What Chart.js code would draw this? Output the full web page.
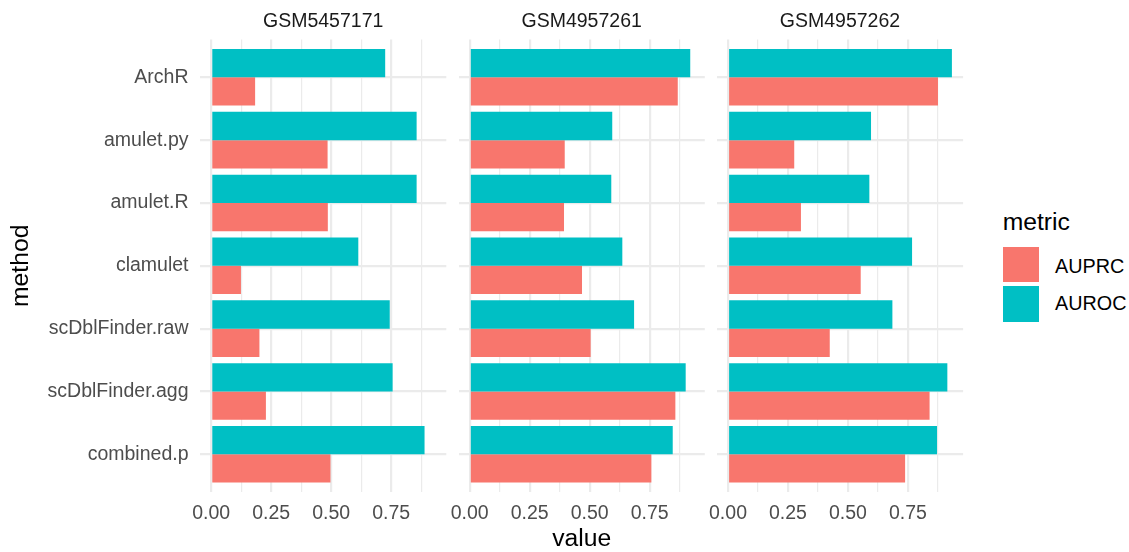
<!DOCTYPE html>
<html>
<head>
<meta charset="utf-8">
<title>AUPRC / AUROC per method</title>
<script src="https://cdn.jsdelivr.net/npm/chart.js@4.4.1/dist/chart.umd.min.js"></script>
<style>
  body { margin: 0; background: #fff; }
  #wrap { position: relative; width: 1129px; height: 552px; overflow: hidden;
          font-family: "Liberation Sans", Arial, Helvetica, sans-serif; }
  #wrap canvas { position: absolute; top: 0; }
  .lg { position: absolute; white-space: nowrap; line-height: 1; color: #000; }
  .key { position: absolute; width: 36px; height: 35.5px; }
</style>
</head>
<body>
<div id="wrap">
  <canvas id="c0" width="477" height="552" style="left:0px"></canvas>
  <canvas id="c1" width="307" height="552" style="left:428px"></canvas>
  <canvas id="c2" width="307" height="552" style="left:687px"></canvas>

  <div class="lg" style="left:1002.7px; top:209.8px; font-size:24.7px">metric</div>
  <div class="key" style="left:1002.7px; top:246.5px; background:#F8766D"></div>
  <div class="key" style="left:1002.7px; top:286.2px; background:#00BFC4"></div>
  <div class="lg" style="left:1055px; top:256.5px; font-size:19.8px">AUPRC</div>
  <div class="lg" style="left:1055px; top:294.2px; font-size:19.8px">AUROC</div>
</div>

<script>
const methods = ['ArchR', 'amulet.py', 'amulet.R', 'clamulet',
                 'scDblFinder.raw', 'scDblFinder.agg', 'combined.p'];
const samples = ['GSM5457171', 'GSM4957261', 'GSM4957262'];

const auprcA = [0.183, 0.485, 0.486, 0.124, 0.201, 0.228, 0.497];
const aurocA = [0.725, 0.856, 0.856, 0.613, 0.744, 0.756, 0.889];
const auprcB = [0.867, 0.396, 0.393, 0.468, 0.504, 0.857, 0.757];
const aurocB = [0.919, 0.594, 0.590, 0.636, 0.685, 0.900, 0.846];
const auprcC = [0.875, 0.276, 0.304, 0.553, 0.424, 0.840, 0.738];
const aurocC = [0.933, 0.596, 0.589, 0.767, 0.685, 0.914, 0.871];

const xTickValues = [0, 0.25, 0.5, 0.75];
const xTickLabels = ['0.00', '0.25', '0.50', '0.75'];
const xMinorValues = [0.125, 0.375, 0.625, 0.875];

const auprc = [auprcA, auprcB, auprcC];
const auroc = [aurocA, aurocB, aurocC];

const FONT = '"Liberation Sans", Arial, Helvetica, sans-serif';
const GRID = '#EBEBEB';

// shared x range: data max plus 5% on both sides, like ggplot's default expansion
const allVals = auprc.flat().concat(auroc.flat());
const vMax = Math.max(...allVals);
const xMin = -0.05 * vMax;
const xMax = vMax * 1.05;

// left/right padding of each canvas so the three panels line up
const pads = [
  { left: 0,    right: 30.7 },
  { left: 30.5, right: 30.2 },
  { left: 29.8, right: 30.9 }
];

function makePanel(i) {
  const first = i === 0;
  const toPts = arr => arr.map((v, k) => ({ x: v, y: k }));

  return new Chart(document.getElementById('c' + i), {
    type: 'bar',
    data: {
      datasets: [
        { label: 'AUROC', data: toPts(auroc[i]), backgroundColor: '#00BFC4' },
        { label: 'AUPRC', data: toPts(auprc[i]), backgroundColor: '#F8766D' }
      ]
    },
    options: {
      indexAxis: 'y',
      responsive: false,
      animation: false,
      events: [],
      layout: { padding: { left: pads[i].left, right: pads[i].right, top: 0, bottom: 0 } },
      datasets: { bar: { barPercentage: 1, categoryPercentage: 0.9, borderWidth: 0 } },
      plugins: {
        legend: { display: false },
        tooltip: { enabled: false },
        title: {
          display: true,
          text: samples[i],
          fullSize: false,
          color: '#1A1A1A',
          font: { family: FONT, size: 19.5, weight: 'normal', lineHeight: 1.2 },
          padding: { top: 9.5, bottom: 6.7 }
        }
      },
      scales: {
        x: {
          type: 'linear',
          min: xMin,
          max: xMax,
          afterBuildTicks: s => {
            s.ticks = xTickValues.concat(xMinorValues).sort((a, b) => a - b).map(v => ({ value: v }));
          },
          afterFit: s => { s.height = 60; },
          border: { display: false },
          grid: {
            color: GRID,
            drawTicks: false,
            lineWidth: c => (c.tick && xMinorValues.includes(c.tick.value)) ? 1.2 : 2.2
          },
          ticks: {
            autoSkip: false,
            maxRotation: 0,
            padding: 10,
            color: '#4D4D4D',
            font: { family: FONT, size: 19.5 },
            callback: v => {
              const k = xTickValues.indexOf(v);
              return k >= 0 ? xTickLabels[k] : '';
            }
          },
          title: {
            display: i === 1,
            text: 'value',
            color: '#000',
            font: { family: FONT, size: 24.7, lineHeight: 1 },
            padding: { top: 0, bottom: 0 }
          }
        },
        y: {
          type: 'linear',
          reverse: true,
          offset: false,
          min: -0.6,
          max: methods.length - 0.4,
          afterBuildTicks: s => { s.ticks = methods.map((m, k) => ({ value: k })); },
          afterFit: s => { s.width = first ? 200 : 0; },
          border: { display: false },
          grid: { color: GRID, drawTicks: false, offset: false, lineWidth: 2.2 },
          ticks: {
            display: first,
            autoSkip: false,
            padding: 11.5,
            color: '#4D4D4D',
            font: { family: FONT, size: 19.5 },
            callback: v => methods[v]
          },
          title: {
            display: first,
            text: 'method',
            color: '#000',
            font: { family: FONT, size: 24.7, lineHeight: 1.2 },
            padding: { top: 6, bottom: 0 }
          }
        }
      }
    }
  });
}

samples.forEach((s, i) => makePanel(i));
</script>
</body>
</html>
